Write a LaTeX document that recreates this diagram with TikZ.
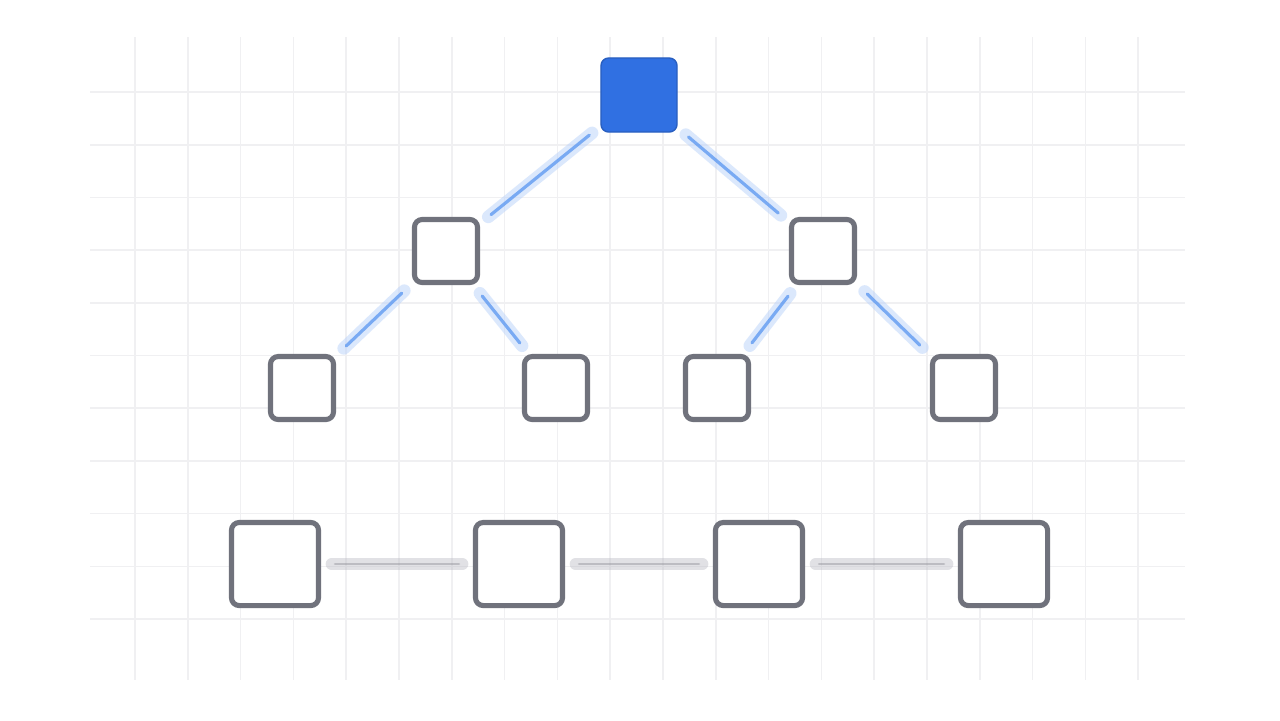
\documentclass[tikz,border=0pt]{standalone}
\usepackage{tikz}
\usetikzlibrary{shapes.geometric}
\usetikzlibrary{arrows,shapes,calc}
\usepackage[dvipsnames]{xcolor}

\definecolor{rootblue}{RGB}{48,112,226}
\definecolor{edgeblue}{RGB}{80,145,240}
\definecolor{glowblue}{RGB}{185,210,250}
\definecolor{boxgray}{RGB}{112,114,124}
\definecolor{linkgray}{RGB}{180,181,190}
\definecolor{gridgray}{RGB}{240,240,242}

\begin{document}
\begin{tikzpicture}[x=0.01cm, y=-0.01cm,
                box/.style = {draw=boxgray, line width=1.45pt, fill=white,
                              rounded corners=2.2pt, minimum size=0.63cm, inner sep=0pt},
                bigbox/.style = {box, minimum width=0.87cm, minimum height=0.83cm},
                rootbox/.style = {draw=rootblue!85!black, line width=0.4pt, fill=rootblue,
                              rounded corners=2.2pt, minimum width=0.76cm, minimum height=0.74cm, inner sep=0pt},
                glow/.style = {glowblue, line width=3.6pt, opacity=0.5, line cap=round},
                beam/.style = {edgeblue, line width=0.9pt, opacity=0.7, line cap=round},
                haze/.style = {linkgray, line width=3.4pt, opacity=0.4, line cap=round},
                core/.style = {linkgray!80!black, line width=0.8pt, opacity=0.45, line cap=round}]
    \useasboundingbox (0,0) rectangle (1280,720);
    \fill[white] (0,0) rectangle (1280,720);

    % grid
    \foreach \i in {0,...,10}
        \draw[gridgray, line width=0.45pt] (90,92+52.7*\i) -- (1185,92+52.7*\i);
    \foreach \i in {0,...,19}
        \draw[gridgray, line width=0.45pt] (135+52.8*\i,37) -- (135+52.8*\i,680);

    % tree
    \node[rootbox] (R) at (639,95) {};
    \node[box] (A) at (446,251) {};
    \node[box] (B) at (823,251) {};
    \node[box] (A1) at (302,388) {};
    \node[box] (A2) at (556,388) {};
    \node[box] (B1) at (717,388) {};
    \node[box] (B2) at (964,388) {};

    % row
    \node[bigbox] (L1) at (275,564) {};
    \node[bigbox] (L2) at (519,564) {};
    \node[bigbox] (L3) at (759,564) {};
    \node[bigbox] (L4) at (1004,564) {};

    % links
    \foreach \u/\v in {R/A, R/B, A/A1, A/A2, B/B1, B/B2} {
        \draw[glow, shorten <=3pt, shorten >=3pt] (\u) -- (\v);
        \draw[beam, shorten <=4pt, shorten >=4pt] (\u) -- (\v);
    }
    \foreach \u/\v in {L1/L2, L2/L3, L3/L4} {
        \draw[haze, shorten <=3pt, shorten >=3pt] (\u) -- (\v);
        \draw[core, shorten <=4pt, shorten >=4pt] (\u) -- (\v);
    }
\end{tikzpicture}
\end{document}
